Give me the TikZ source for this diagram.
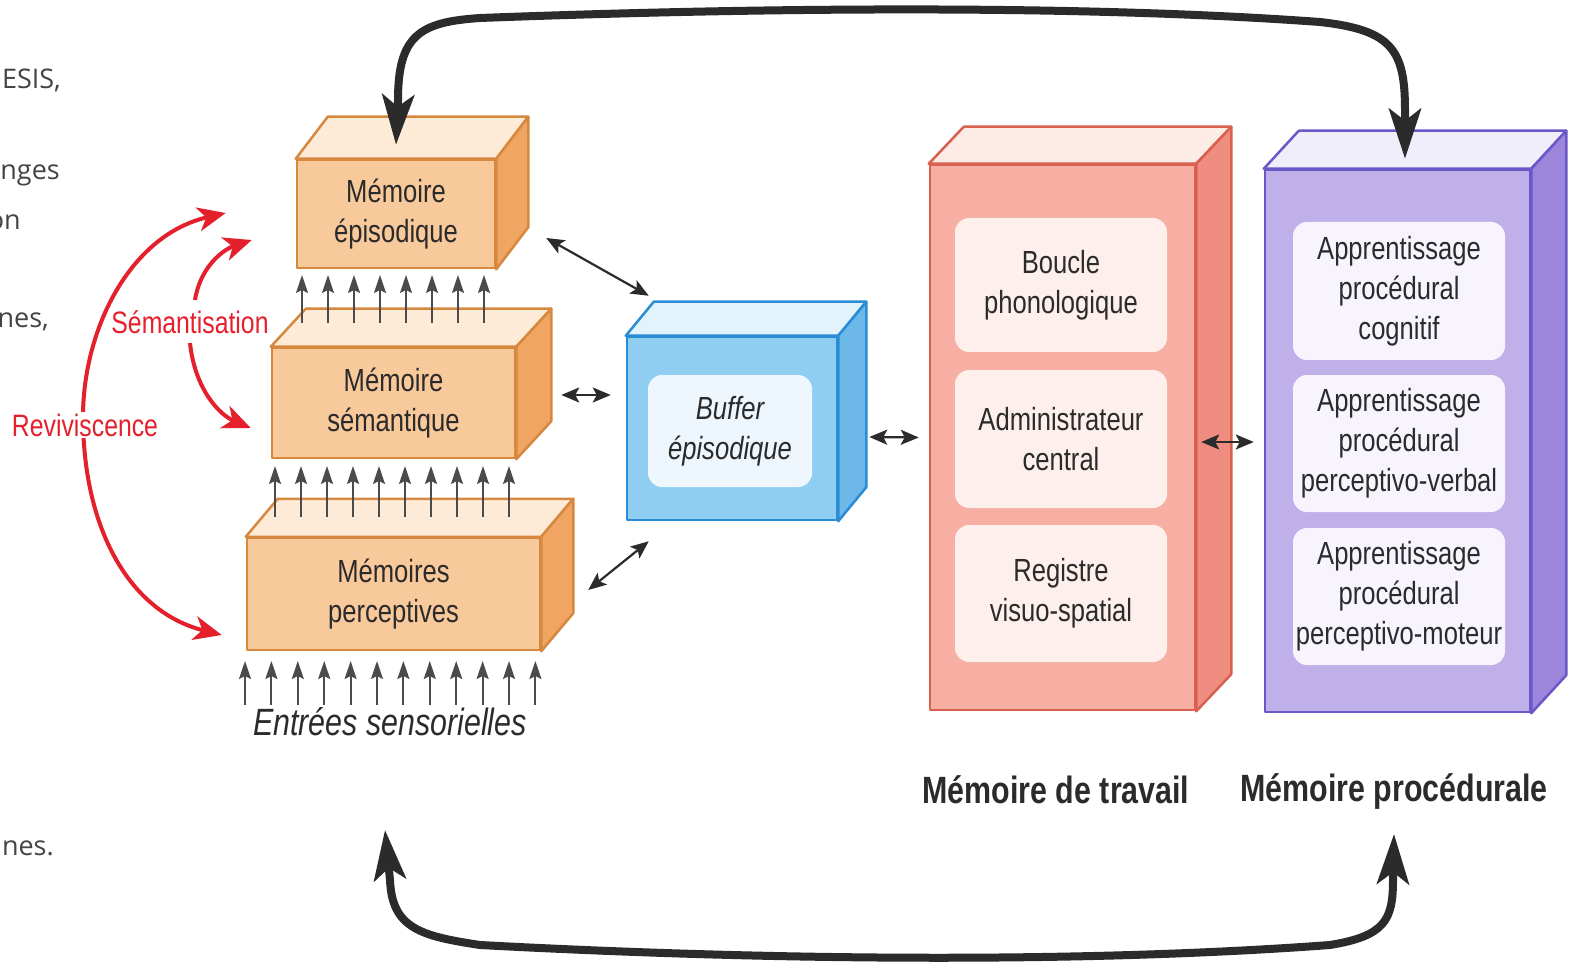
\documentclass[tikz,border=0pt]{standalone}
\usepackage{fontspec}
\usetikzlibrary{arrows.meta}
\newfontfamily\nar[FakeStretch=0.8]{Liberation Sans}
\newfontfamily\pagefont{Open Sans}
\definecolor{orfront}{HTML}{F8C99A}
\definecolor{orline}{HTML}{D6893E}
\definecolor{ortop}{HTML}{FDEBD8}
\definecolor{orside}{HTML}{F0A563}
\definecolor{blfront}{HTML}{8FCDF1}
\definecolor{blline}{HTML}{2A8CD4}
\definecolor{bltop}{HTML}{E3F3FC}
\definecolor{blside}{HTML}{6BB8E9}
\definecolor{blinner}{HTML}{EEF7FD}
\definecolor{wmfront}{HTML}{F6AFA2}
\definecolor{wmline}{HTML}{D8604F}
\definecolor{wmtop}{HTML}{FDEBE6}
\definecolor{wmside}{HTML}{EF8E80}
\definecolor{wminner}{HTML}{FDF0EC}
\definecolor{prfront}{HTML}{BFB0EA}
\definecolor{prline}{HTML}{6A58C8}
\definecolor{prtop}{HTML}{F1EEFB}
\definecolor{prside}{HTML}{9C86DC}
\definecolor{prinner}{HTML}{F7F4FD}
\definecolor{redarr}{HTML}{E3202C}
\definecolor{ink}{HTML}{2B2B2B}
\definecolor{pagegray}{HTML}{444444}
\tikzset{
  cubefront/.style={draw=#1line, fill=#1front, line width=2.5pt, inner sep=0pt,
    align=center, line join=round, text=ink, font=\boxfont},
  cubetop/.style={draw=#1line, fill=#1top, line width=2.5pt, line join=round},
  cubeside/.style={draw=#1line, fill=#1side, line width=2.5pt, line join=round},
  innerbox/.style={fill=#1inner, rounded corners=14pt, inner sep=0pt, align=center,
    text=ink, font=\boxfont},
  bigarrow/.style={draw=ink, line width=8pt,
    {Stealth[length=50pt,width=32pt,inset=12pt]}-{Stealth[length=50pt,width=32pt,inset=12pt]}},
  redarrow/.style={draw=redarr, line width=4pt, -{Stealth[length=28pt,width=24pt,inset=8pt]}},
  dblarrow/.style={draw=ink, line width=2.2pt,
    {Stealth[length=18pt,width=15pt,inset=4pt]}-{Stealth[length=18pt,width=15pt,inset=4pt]}},
  uparrow/.style={draw=ink!85, line width=2pt, -{Stealth[length=18pt,width=12pt,inset=3pt]}},
  redlabel/.style={text=redarr, font=\nar\fontsize{31pt}{36pt}\selectfont, fill=white, inner sep=2pt},
  pagetext/.style={text=pagegray, font=\pagefont\fontsize{27pt}{32pt}\selectfont, anchor=east, inner sep=0pt},
}
\newcommand\boxfont{\nar\fontsize{32pt}{40pt}\selectfont}
\newcommand\cuboid[9]{%
  \node[cubefront=#8, minimum width=#4pt, minimum height=#5pt] (#1) at (#2,#3) {#9};
  \filldraw[cubetop=#8] (#1.north west) -- ++(#6,#7) -- ([shift={(#6,#7)}]#1.north east) -- (#1.north east) -- cycle;
  \filldraw[cubeside=#8] (#1.north east) -- ++(#6,#7) -- ([shift={(#6,#7)}]#1.south east) -- (#1.south east) -- cycle;
}
\begin{document}
\begin{tikzpicture}[x=1pt,y=-1pt]
\useasboundingbox[fill=white] (0,0) rectangle (1572,968);

% stray page text at the left edge
\node[pagetext] (p1) at (61,80) {ESIS,};
\node[pagetext] (p2) at (60,175) {nges};
\node[pagetext] (p3) at (21,222) {on};
\node[pagetext] (p4) at (49,322) {nes,};
\node[pagetext] (p5) at (54,848) {nes.};

% memory boxes
\cuboid{epi}{396}{214}{198}{108}{32}{-42}{or}{Mémoire\\épisodique}
\cuboid{sem}{393.5}{403}{243}{110}{35}{-38}{or}{Mémoire\\sémantique}
\cuboid{per}{393.5}{594}{293}{112}{32}{-38}{or}{Mémoires\\perceptives}
\cuboid{buf}{732}{428.5}{210}{183}{28}{-34}{bl}{}
\cuboid{wm}{1062.5}{437.5}{265}{545}{35}{-37}{wm}{}
\cuboid{proc}{1397.5}{441}{265}{542}{35}{-38}{pr}{}

% inner boxes
\node[innerbox=bl, minimum width=164pt, minimum height=112pt] (bufin) at (730,431)
  {\itshape Buffer\\\itshape épisodique};
\node[innerbox=wm, minimum width=212pt, minimum height=134pt] (boucle) at (1061,285) {Boucle\\phonologique};
\node[innerbox=wm, minimum width=212pt, minimum height=138pt] (admin) at (1061,439) {Administrateur\\central};
\node[innerbox=wm, minimum width=212pt, minimum height=137pt] (regis) at (1061,593.5) {Registre\\visuo-spatial};
\node[innerbox=pr, minimum width=212pt, minimum height=138pt] (apc) at (1399,291) {Apprentissage\\procédural\\cognitif};
\node[innerbox=pr, minimum width=212pt, minimum height=137pt] (apv) at (1399,443.5) {Apprentissage\\procédural\\perceptivo-verbal};
\node[innerbox=pr, minimum width=212pt, minimum height=137pt] (apm) at (1399,596.5) {Apprentissage\\procédural\\perceptivo-moteur};

% labels
\node[text=ink, font=\nar\bfseries\fontsize{38pt}{44pt}\selectfont] (lwm) at (1056,790) {Mémoire de travail};
\node[text=ink, font=\nar\bfseries\fontsize{38pt}{44pt}\selectfont] (lpr) at (1394,792) {Mémoire procédurale};
\node[text=ink, font=\nar\itshape\fontsize{38pt}{44pt}\selectfont] (entrees) at (390,722) {Entrées sensorielles};

% small upward arrows
\foreach \x in {302,328,354,380,406,432,458,484}
  \draw[uparrow] (\x,323) -- (\x,275);
\foreach \x in {275,301,327,353,379,405,431,457,483,509}
  \draw[uparrow] (\x,517) -- (\x,466);
\foreach \i in {0,...,11}
  \draw[uparrow] (245+26.4*\i,705) -- (245+26.4*\i,661);

% double arrows
\draw[dblarrow] ([shift={(50,24)}]epi.east) -- ([shift={(23,-40)}]buf.north west);
\draw[dblarrow] ([shift={(45,-8)}]sem.east) -- ([shift={(-15,-33.5)}]buf.west);
\draw[dblarrow] ([shift={(47,-4)}]per.east) -- ([shift={(23,20)}]buf.south west);
\draw[dblarrow] ([shift={(31,8.5)}]buf.east) -- ([shift={(-10,0)}]wm.west);
\draw[dblarrow] ([shift={(5,4.5)}]wm.east) -- ([shift={(-10,1)}]proc.west);

% big black arrows
\coordinate (botL) at (385,830);
\coordinate (botR) at (1394,834);
\draw[bigarrow] ([yshift=14pt]epi.north) -- (398,100)
  .. controls (398,35) and (420,22) .. (480,18)
  .. controls (800,6) and (1100,6) .. (1320,22)
  .. controls (1392,30) and (1405,50) .. (1405,110)
  -- ([shift={(7.5,-10)}]proc.north);
\draw[bigarrow] (botL) -- (390,880)
  .. controls (392,928) and (420,936) .. (480,945)
  .. controls (800,962) and (1100,962) .. (1330,945)
  .. controls (1385,936) and (1393,920) .. (1393,880)
  -- (botR);

% red arrows
\draw[redarrow, {Stealth[length=28pt,width=24pt,inset=8pt]}-{Stealth[length=28pt,width=24pt,inset=8pt]}]
  ([shift={(-70,-1)}]epi.west) .. controls (130,235) and (82,330) .. (83,420)
  .. controls (84,530) and (130,612) .. ([shift={(-24,41)}]per.west);
\draw[redarrow] (195,300) .. controls (200,268) and (222,250) .. ([shift={(-44,26)}]epi.west);
\draw[redarrow] (190,343) .. controls (195,390) and (220,415) .. ([shift={(-20,25)}]sem.west);
\node[redlabel] (sema) at (190,322) {Sémantisation};
\node[redlabel] (revi) at (85,425) {Reviviscence};
\end{tikzpicture}
\end{document}
